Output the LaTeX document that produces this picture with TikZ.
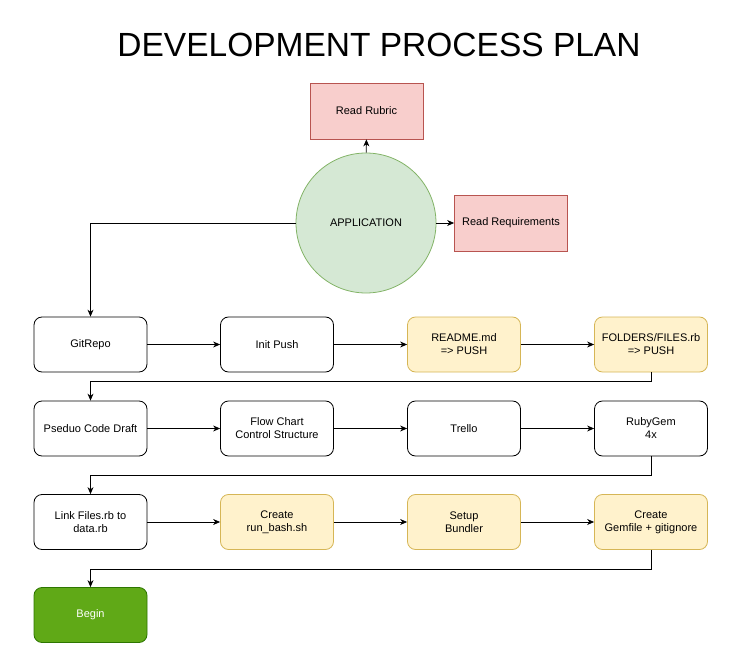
\documentclass[tikz,border=0pt]{standalone}
\usepackage{fontspec}
\setmainfont{Liberation Sans}
\usetikzlibrary{arrows.meta}
\definecolor{redfill}{HTML}{F8CECC}
\definecolor{redline}{HTML}{B85450}
\definecolor{greenfill}{HTML}{D5E8D4}
\definecolor{greenline}{HTML}{82B366}
\definecolor{yellowfill}{HTML}{FFF2CC}
\definecolor{yellowline}{HTML}{D6B656}
\definecolor{beginfill}{HTML}{60A917}
\definecolor{beginline}{HTML}{2D7600}
\tikzset{
  task/.style={draw, rounded corners=8pt, minimum width=113pt, minimum height=55pt,
    align=center, font=\fontsize{11}{13}\selectfont, line width=0.8pt},
  todo/.style={task, fill=yellowfill, draw=yellowline},
  readbox/.style={draw=redline, fill=redfill, minimum width=113pt, minimum height=56pt,
    font=\fontsize{11}{13}\selectfont, line width=0.8pt},
  flow/.style={-{Stealth[length=7pt,width=6pt]}, line width=0.8pt}
}
\begin{document}
\begin{tikzpicture}[x=1pt,y=-1pt]
\useasboundingbox (0,0) rectangle (742,658);
\node (title) at (379,45) {\fontsize{33.5}{36}\selectfont DEVELOPMENT PROCESS PLAN};
\node[circle, draw=greenline, fill=greenfill, minimum size=140pt, line width=0.8pt,
  font=\fontsize{11}{13}\selectfont] (app) at (366,223) {APPLICATION};
\node[readbox] (rubric) at (366.5,111) {Read Rubric};
\node[readbox] (req) at (511,223) {Read Requirements};
\node[task] (git) at (90.5,344.5) {GitRepo};
\node[task] (init) at (277,344.5) {Init Push};
\node[todo] (readme) at (464,344.5) {README.md\\=> PUSH};
\node[todo] (folders) at (651,344.5) {FOLDERS/FILES.rb\\=> PUSH};
\node[task] (pseduo) at (90.5,428.5) {Pseduo Code Draft};
\node[task] (chart) at (277,428.5) {Flow Chart\\Control Structure};
\node[task] (trello) at (464,428.5) {Trello};
\node[task] (gem) at (651,428.5) {RubyGem\\4x};
\node[task] (link) at (90.5,522) {Link Files.rb to\\data.rb};
\node[todo] (bash) at (277,522) {Create\\run\_bash.sh};
\node[todo] (bundler) at (464,522) {Setup\\Bundler};
\node[todo] (gemfile) at (651,522) {Create\\Gemfile + gitignore};
\node[task, fill=beginfill, draw=beginline, text=white] (begin) at (90.5,615) {Begin};
\draw[flow] (app) -- (rubric);
\draw[flow] (app) -- (req);
\draw[flow] (app.west) -| (git.north);
\draw[flow] (git) -- (init);
\draw[flow] (init) -- (readme);
\draw[flow] (readme) -- (folders);
\draw[flow] (folders.south) -- ++(0,9) -| (pseduo.north);
\draw[flow] (pseduo) -- (chart);
\draw[flow] (chart) -- (trello);
\draw[flow] (trello) -- (gem);
\draw[flow] (gem.south) -- ++(0,19) -| (link.north);
\draw[flow] (link) -- (bash);
\draw[flow] (bash) -- (bundler);
\draw[flow] (bundler) -- (gemfile);
\draw[flow] (gemfile.south) -- ++(0,19) -| (begin.north);
\end{tikzpicture}
\end{document}
